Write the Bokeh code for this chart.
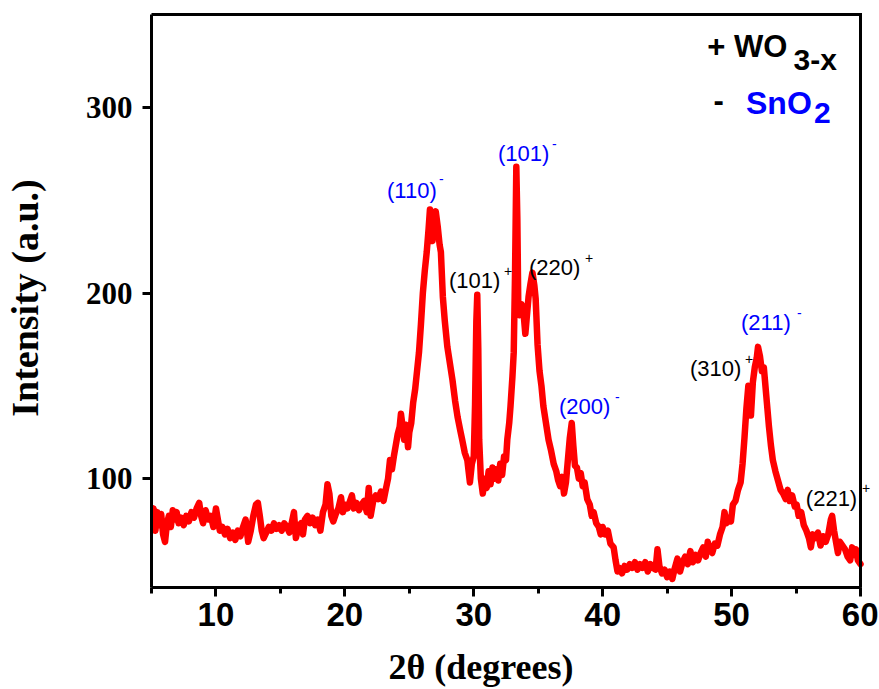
from bokeh.plotting import figure
from bokeh.models import Range1d, SingleIntervalTicker, FixedTicker, Label, Title
from bokeh.embed import file_html
from bokeh.resources import INLINE

# ---- data (2theta in degrees, intensity a.u.) ----
two_theta = [
    5.0, 5.15, 5.3, 5.45, 5.6, 5.75, 5.9, 6.05, 6.2, 6.35, 6.5, 6.65, 6.8, 6.95,
    7.1, 7.3, 7.5, 7.7, 7.9, 8.1, 8.3, 8.5, 8.7, 8.85, 9.0, 9.2, 9.4, 9.6, 9.8,
    10.0, 10.1, 10.3, 10.5, 10.7, 10.9, 11.1, 11.3, 11.5, 11.7, 11.9, 12.1, 12.3,
    12.5, 12.7, 12.9, 13.1, 13.25, 13.4, 13.55, 13.7, 13.9, 14.1, 14.3, 14.5, 14.7,
    14.9, 15.1, 15.3, 15.5, 15.7, 15.9, 16.05, 16.2, 16.4, 16.6, 16.75, 16.9, 17.1,
    17.3, 17.5, 17.7, 17.9, 18.1, 18.3, 18.5, 18.65, 18.8, 18.95, 19.1, 19.3, 19.5,
    19.7, 19.85, 20.0, 20.2, 20.4, 20.55, 20.7, 20.9, 21.1, 21.3, 21.5, 21.7, 21.85,
    22.0, 22.2, 22.4, 22.6, 22.8, 23.0, 23.2, 23.35, 23.5, 23.65, 23.8, 23.95, 24.1,
    24.25, 24.35, 24.5, 24.6, 24.75, 24.9, 25.0, 25.15, 25.3, 25.45, 25.6, 25.75,
    25.9, 26.05, 26.2, 26.35, 26.5, 26.6, 26.7, 26.8, 26.9, 27.05, 27.2, 27.35,
    27.45, 27.6, 27.75, 27.95, 28.15, 28.35, 28.55, 28.75, 28.95, 29.1, 29.3, 29.5,
    29.6, 29.7, 29.85, 30.0, 30.1, 30.2, 30.27, 30.35, 30.42, 30.55, 30.7, 30.85,
    31.0, 31.15, 31.3, 31.45, 31.6, 31.75, 31.9, 32.05, 32.2, 32.35, 32.5, 32.6,
    32.75, 32.85, 33.0, 33.1, 33.2, 33.3, 33.38, 33.45, 33.55, 33.7, 33.85, 34.0,
    34.1, 34.25, 34.4, 34.55, 34.7, 34.8, 34.95, 35.1, 35.25, 35.4, 35.6, 35.8,
    36.0, 36.2, 36.4, 36.55, 36.7, 36.85, 37.0, 37.15, 37.3, 37.45, 37.6, 37.72,
    37.85, 38.0, 38.15, 38.3, 38.45, 38.6, 38.8, 39.0, 39.15, 39.3, 39.5, 39.7,
    39.85, 40.0, 40.2, 40.4, 40.6, 40.85, 41.0, 41.15, 41.3, 41.5, 41.7, 41.9,
    42.1, 42.3, 42.5, 42.7, 42.9, 43.1, 43.3, 43.5, 43.7, 43.9, 44.1, 44.25, 44.4,
    44.6, 44.8, 45.0, 45.2, 45.4, 45.6, 45.8, 46.0, 46.2, 46.4, 46.6, 46.8, 47.0,
    47.2, 47.4, 47.6, 47.8, 48.0, 48.15, 48.3, 48.5, 48.7, 48.9, 49.1, 49.3, 49.45,
    49.6, 49.8, 49.95, 50.1, 50.3, 50.5, 50.7, 50.85, 51.0, 51.15, 51.3, 51.4,
    51.5, 51.65, 51.8, 51.95, 52.05, 52.2, 52.35, 52.5, 52.6, 52.75, 52.9, 53.05,
    53.2, 53.4, 53.6, 53.8, 54.0, 54.2, 54.35, 54.5, 54.7, 54.9, 55.05, 55.2, 55.4,
    55.6, 55.8, 56.0, 56.15, 56.3, 56.5, 56.7, 56.9, 57.1, 57.3, 57.5, 57.7, 57.8,
    57.95, 58.1, 58.25, 58.4, 58.6, 58.8, 59.0, 59.2, 59.35, 59.5, 59.65, 59.8, 60.0,
]
intensity = [
    78, 84, 72, 82, 75, 81, 70, 66, 76, 80, 74, 83, 78, 82,
    76, 79, 75, 80, 77, 82, 79, 84, 87, 80, 76, 83, 78, 80, 74,
    84, 80, 72, 74, 70, 73, 68, 71, 67, 72, 69, 74, 78,
    66, 72, 80, 86, 87, 80, 72, 68, 71, 74, 72, 76, 73,
    75, 72, 76, 74, 71, 77, 82, 68, 74, 76, 70, 78, 80,
    76, 79, 75, 78, 72, 82, 86, 97, 92, 80, 77, 81, 84,
    90, 82, 86, 84, 88, 91, 84, 87, 83, 86, 88, 82, 95,
    80, 88, 91, 89, 93, 88, 95, 100, 110, 105, 112, 118, 124,
    128, 135, 127, 121, 129, 117, 125, 130, 141, 148, 158, 168,
    183, 200, 212, 222, 235, 245, 232, 228, 240, 244, 236, 226,
    222, 198, 185, 171, 162, 153, 142, 133, 126, 121, 114, 110,
    104, 98, 108, 112, 140, 185, 199, 170, 121, 100, 92, 100,
    95, 104, 97, 106, 100, 105, 99, 108, 102, 112, 110, 121,
    130, 139, 155, 168, 210, 268, 240, 195, 188, 194, 190, 178,
    186, 198, 205, 211, 204, 197, 172, 158, 150, 139, 130, 121,
    115, 108, 104, 99, 96, 101, 92, 98, 110, 122, 130, 118,
    107, 106, 100, 103, 96, 98, 89, 86, 80, 82, 76, 74,
    70, 74, 70, 72, 65, 63, 56, 50, 52, 49, 53, 51,
    54, 52, 55, 51, 54, 52, 55, 50, 54, 52, 51, 62, 53,
    49, 51, 47, 50, 46, 52, 57, 50, 55, 58, 54, 61, 55,
    59, 56, 60, 63, 58, 66, 62, 60, 65, 64, 70, 74, 82,
    76, 79, 77, 86, 88, 94, 98, 108, 122, 138, 150, 148,
    134, 152, 160, 165, 171, 166, 158, 160, 152, 140, 128, 118,
    110, 104, 99, 94, 92, 89, 94, 88, 91, 85, 86, 80, 82,
    75, 72, 68, 63, 70, 68, 71, 64, 69, 66, 70, 78, 80,
    72, 66, 60, 66, 64, 62, 58, 56, 63, 59, 62, 56, 54,
]

x_ticks = [10, 20, 30, 40, 50, 60]
y_ticks = [100, 200, 300]
x_lo, x_hi = 5, 60
y_lo, y_hi = 41.4, 350

# peak annotations: (main text, superscript, colour)
peak_labels = ["(110)", "(101)", "(101)", "(220)", "(200)", "(211)", "(310)", "(221)"]
peak_marks = ["-", "-", "+", "+", "-", "-", "+", "+"]
peak_colors = ["#0000ff", "#0000ff", "#000000", "#000000", "#0000ff", "#0000ff", "#000000", "#000000"]

# positions (data units) of annotation text
peak_pos = [(23.27, 250.2), (31.88, 270.1), (28.08, 201.8), (34.28, 208.8),
            (36.61, 134.0), (50.73, 179.2), (46.77, 154.4), (55.76, 84.5)]
sup_pos = [(27.30, 256.7), (36.07, 275.5), (32.34, 207.2), (38.63, 214.2),
           (40.95, 139.4), (55.07, 184.6), (51.04, 159.8), (60.11, 89.9)]

W, H = 878, 688
FL, FR, FT, FB = 151, 874, 8, 588      # frame edges in page pixels
px_per_x = 709 / (x_hi - x_lo)
px_per_y = 574 / (y_hi - y_lo)
x_end = x_lo + (FR - FL) / px_per_x
y_end = y_lo + (FB - FT) / px_per_y
dy = 9 / px_per_y                      # text baseline correction

p = figure(width=W, height=H, output_backend="svg", toolbar_location=None,
           x_range=Range1d(x_lo, x_end), y_range=Range1d(y_lo, y_end),
           min_border_left=FL, min_border_right=W - FR, min_border_top=FT,
           min_border_bottom=H - FB)

p.line(two_theta, intensity, line_color="#ff0000", line_width=6.5,
       line_join="round", line_cap="round")

# top and right frame lines of the box
p.line([x_lo, x_hi, x_hi], [y_hi, y_hi, y_lo], line_color="black", line_width=3,
       line_join="miter", line_cap="square")

p.xgrid.visible = False
p.ygrid.visible = False
p.background_fill_color = "white"
p.border_fill_color = "white"
p.outline_line_color = None

xa = p.xaxis[0]
xa.bounds = (x_lo, x_hi)
xa.ticker = SingleIntervalTicker(interval=10, num_minor_ticks=2)
xa.axis_line_width = 3
xa.major_tick_line_width = 3
xa.minor_tick_line_width = 3
xa.major_tick_in = 0
xa.major_tick_out = 9
xa.minor_tick_in = 0
xa.minor_tick_out = 6
xa.major_label_text_font = "Liberation Sans"
xa.major_label_text_font_style = "bold"
xa.major_label_text_font_size = "33px"
xa.major_label_text_color = "black"
xa.major_label_standoff = 6

ya = p.yaxis[0]
ya.bounds = (y_lo, y_hi)
ya.ticker = FixedTicker(ticks=y_ticks, minor_ticks=[])
ya.axis_line_width = 3
ya.major_tick_line_width = 3
ya.major_tick_in = 0
ya.major_tick_out = 9
ya.minor_tick_line_color = None
ya.major_label_text_font = "Liberation Serif"
ya.major_label_text_font_style = "bold"
ya.major_label_text_font_size = "31px"
ya.major_label_text_color = "black"
ya.major_label_standoff = 10
ya.axis_label = "Intensity (a.u.)"
ya.axis_label_text_font = "Liberation Serif"
ya.axis_label_text_font_style = "bold"
ya.axis_label_text_font_size = "38px"
ya.axis_label_text_color = "black"
ya.axis_label_standoff = 37

# spacer, then the x-axis title placed left of the frame centre as in the reference
p.add_layout(Title(text=" ", text_font_size="2px", standoff=10), "below")
p.add_layout(Title(text="2θ (degrees)", align="left", offset=237,
                   text_font="Liberation Serif", text_font_style="bold",
                   text_font_size="36px", text_color="black", standoff=4), "below")

for txt, mark, col, (x0, y0), (x1, y1) in zip(peak_labels, peak_marks, peak_colors, peak_pos, sup_pos):
    p.add_layout(Label(x=x0, y=y0 + dy, text=txt, text_align="left", text_baseline="alphabetic",
                       text_font="Liberation Sans", text_font_size="22px", text_color=col))
    p.add_layout(Label(x=x1, y=y1 + dy, text=mark, text_align="left", text_baseline="alphabetic",
                       text_font="Liberation Sans", text_font_size="14px", text_color=col))

# phase key
legend_items = [
    ("+ WO", 48.12, 327.7, "31px", "#000000"),
    ("3-x", 54.8, 320.7, "30px", "#000000"),
    ("-", 48.59, 299.2, "31px", "#000000"),
    ("SnO", 51.12, 297.6, "32px", "#0000ff"),
    ("2", 56.4, 292.2, "30px", "#0000ff"),
]
for txt, x0, y0, fs, col in legend_items:
    p.add_layout(Label(x=x0, y=y0 + dy, text=txt, text_align="left", text_baseline="alphabetic",
                       text_font="Liberation Sans", text_font_style="bold",
                       text_font_size=fs, text_color=col))

open("out.html", "w").write(file_html(p, INLINE))
